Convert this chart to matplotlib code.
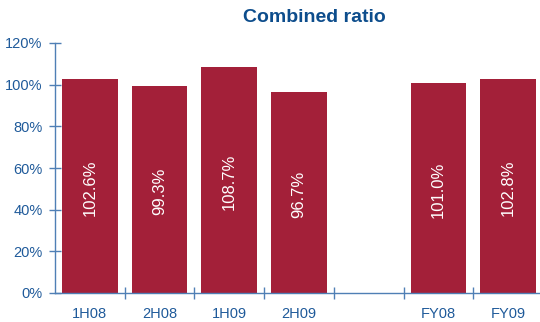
import matplotlib
matplotlib.use("Agg")
import matplotlib.pyplot as plt
import numpy as np

plt.rcParams['font.family'] = ['Liberation Sans', 'DejaVu Sans']

categories = ["1H08", "2H08", "1H09", "2H09", "", "FY08", "FY09"]
values = [102.6, 99.3, 108.7, 96.7, None, 101.0, 102.8]
y_ticks = [0, 20, 40, 60, 80, 100, 120]

bar_color = "#A32039"
axis_color = "#4F7FB5"
text_color = "#1F5A9A"
title_color = "#0D4D8C"

fig = plt.figure(figsize=(5.4, 3.22), dpi=100)
ax = fig.add_axes([55 / 540, 29 / 322, 488 / 540, 250 / 322])

x = np.arange(len(categories))
for xi, v in zip(x, values):
    if v is None:
        continue
    ax.bar(xi, v, width=0.8, color=bar_color, zorder=2)
    ax.text(xi, v / 2 - 1, f"{v:.1f}%", rotation=90, ha="center", va="center",
            color="white", fontsize=12, zorder=3)

ax.set_xlim(-0.5, len(categories) - 0.5)
ax.set_ylim(0, 120)
ax.set_yticks(y_ticks)
ax.set_yticklabels([f"{t}%" for t in y_ticks])
ax.set_xticks(x)
ax.set_xticklabels(categories)
ax.set_xticks(np.arange(0.5, len(categories) - 0.5, 1), minor=True)

ax.tick_params(axis="x", which="major", length=0, pad=10, labelsize=10.5,
               labelcolor=text_color)
ax.tick_params(axis="x", which="minor", length=8, direction="inout",
               color=axis_color, width=1)
ax.tick_params(axis="y", which="major", length=8, direction="inout",
               color=axis_color, width=1, labelsize=10.5, labelcolor=text_color,
               pad=5)

for side in ("top", "right"):
    ax.spines[side].set_visible(False)
for side in ("left", "bottom"):
    ax.spines[side].set_color(axis_color)
    ax.spines[side].set_linewidth(1)
    ax.spines[side].set_zorder(4)

fig.text(314 / 540, 1 - 18 / 322, "Combined ratio", ha="center", va="center",
         fontsize=14, fontweight="bold", color=title_color)

fig.savefig("out.png", dpi=100)
